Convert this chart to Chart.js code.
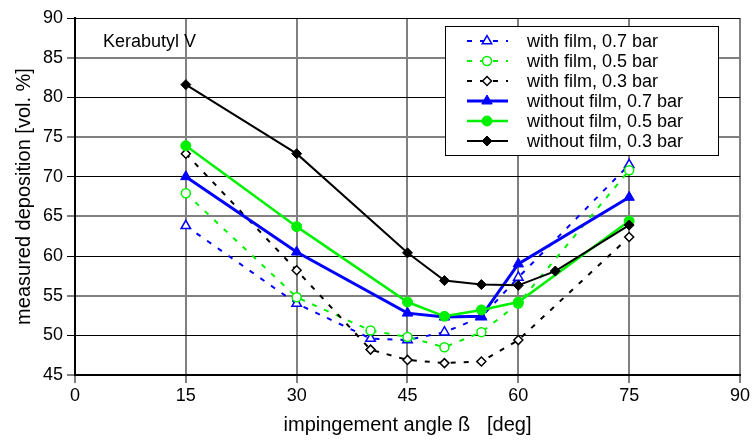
<!DOCTYPE html>
<html>
<head>
<meta charset="utf-8">
<script src="https://cdn.jsdelivr.net/npm/chart.js@4/dist/chart.umd.min.js"></script>
<style>
  body { margin: 0; background: #fff; }
  canvas { display: block; }
</style>
</head>
<body>
<canvas id="chart" width="752" height="440"></canvas>
<script>
// impingement angles [deg]
const anglesWithFilm = [15, 30, 40, 45, 50, 55, 60, 75];
const anglesNoFilm = [15, 30, 45, 50, 55, 60, 75];
const anglesNoFilm03 = [15, 30, 45, 50, 55, 60, 65, 75];

// measured deposition [vol. %]
const withFilm07 = [63.8, 54.0, 49.6, 49.4, 50.4, 52.3, 57.3, 71.5];
const withFilm05 = [67.9, 54.8, 50.6, 49.8, 48.5, 50.4, 54.0, 70.8];
const withFilm03 = [72.9, 58.2, 48.2, 46.9, 46.5, 46.7, 49.4, 62.4];
const noFilm07 = [70.0, 60.5, 52.8, 52.3, 52.4, 59.0, 67.4];
const noFilm05 = [73.9, 63.7, 54.2, 52.4, 53.2, 54.2, 64.4];
const noFilm03 = [81.6, 72.9, 60.4, 56.9, 56.4, 56.3, 58.1, 63.9];

const xTicks = [0, 15, 30, 45, 60, 75, 90];
const yMin = 45, yMax = 90;

const FONT = "'Liberation Sans', Arial, sans-serif";
const GREEN = '#00f000';

function pts(xs, ys) {
    return xs.map((x, i) => ({ x: x, y: ys[i] }));
}

function dashed(label, xs, ys, color, style, r, order) {
    return {
        label: label,
        data: pts(xs, ys),
        borderColor: color,
        backgroundColor: '#ffffff',
        borderWidth: 2,
        borderDash: [5, 8],
        pointStyle: style,
        pointRadius: r,
        pointBorderWidth: 1.5,
        pointBorderColor: color,
        pointBackgroundColor: '#ffffff',
        tension: 0,
        order: order
    };
}

function solid(label, xs, ys, color, style, r, width, order) {
    return {
        label: label,
        data: pts(xs, ys),
        borderColor: color,
        backgroundColor: color,
        borderWidth: width,
        pointStyle: style,
        pointRadius: r,
        pointBorderWidth: 1,
        pointBorderColor: color,
        pointBackgroundColor: color,
        tension: 0,
        order: order
    };
}

const datasets = [
    dashed('with film, 0.7 bar', anglesWithFilm, withFilm07, '#0000ff', 'triangle', 5.5, 5),
    dashed('with film, 0.5 bar', anglesWithFilm, withFilm05, GREEN, 'circle', 4.5, 4),
    dashed('with film, 0.3 bar', anglesWithFilm, withFilm03, '#000000', 'rectRot', 4.5, 3),
    solid('without film, 0.7 bar', anglesNoFilm, noFilm07, '#0000ff', 'triangle', 6, 3, 2),
    solid('without film, 0.5 bar', anglesNoFilm, noFilm05, GREEN, 'circle', 5, 2.5, 1),
    solid('without film, 0.3 bar', anglesNoFilm03, noFilm03, '#000000', 'rectRot', 5, 2, 0)
];

// legend box and the "Kerabutyl V" note
const overlay = {
    id: 'overlay',
    afterDraw(chart) {
        const ctx = chart.ctx;
        ctx.save();
        ctx.font = '18px ' + FONT;
        ctx.fillStyle = '#000';
        ctx.textBaseline = 'alphabetic';
        ctx.fillText('Kerabutyl V', 103, 47);

        const bx = 445, by = 26, bw = 273, bh = 129;
        ctx.fillStyle = '#fff';
        ctx.fillRect(bx, by, bw, bh);
        ctx.strokeStyle = '#000';
        ctx.lineWidth = 1;
        ctx.strokeRect(bx + 0.5, by + 0.5, bw, bh);

        chart.data.datasets.forEach((ds, i) => {
            const y = by + 15 + i * 20;
            ctx.strokeStyle = ds.borderColor;
            ctx.lineWidth = ds.borderWidth;
            ctx.setLineDash(ds.borderDash || []);
            ctx.beginPath();
            ctx.moveTo(467, y);
            ctx.lineTo(508, y);
            ctx.stroke();
            ctx.setLineDash([]);
            ctx.fillStyle = ds.pointBackgroundColor;
            ctx.strokeStyle = ds.pointBorderColor;
            ctx.lineWidth = ds.pointBorderWidth;
            Chart.helpers.drawPoint(ctx, {
                pointStyle: ds.pointStyle,
                radius: ds.pointRadius,
                borderWidth: ds.pointBorderWidth,
                rotation: 0
            }, 487, y);
            ctx.fillStyle = '#000';
            ctx.textBaseline = 'middle';
            ctx.fillText(ds.label, 527, y + 1);
        });
        ctx.restore();
    }
};

new Chart(document.getElementById('chart'), {
    type: 'line',
    data: { datasets: datasets },
    options: {
        responsive: false,
        animation: false,
        devicePixelRatio: 1,
        layout: { padding: { top: 18, right: 12, left: 0, bottom: 0 } },
        plugins: {
            legend: { display: false },
            tooltip: { enabled: false }
        },
        scales: {
            x: {
                type: 'linear',
                min: 0,
                max: 90,
                afterBuildTicks: s => { s.ticks = xTicks.map(v => ({ value: v })); },
                afterFit: s => { s.height = 65; },
                ticks: { color: '#000', font: { family: FONT, size: 18 }, padding: 2 },
                grid: { color: '#808080', lineWidth: 2, tickLength: 8 },
                border: { color: '#000', width: 2 },
                title: {
                    display: true,
                    text: 'impingement angle ß   [deg]',
                    color: '#000',
                    font: { family: FONT, size: 20 },
                    padding: { top: 0, bottom: 3 }
                }
            },
            y: {
                min: yMin,
                max: yMax,
                afterFit: s => { s.width = 75; },
                ticks: { stepSize: 5, color: '#000', font: { family: FONT, size: 18 }, padding: 4 },
                grid: {
                    color: c => (c.tick && c.tick.value % 10 === 0) ? '#000' : '#808080',
                    lineWidth: c => (c.tick && c.tick.value % 10 === 0) ? 1 : 2,
                    tickLength: 8
                },
                border: { color: '#000', width: 2 },
                title: {
                    display: true,
                    text: 'measured deposition [vol. %]',
                    color: '#000',
                    font: { family: FONT, size: 20 },
                    padding: { top: 12, bottom: 0 }
                }
            }
        }
    },
    plugins: [overlay]
});
</script>
</body>
</html>
